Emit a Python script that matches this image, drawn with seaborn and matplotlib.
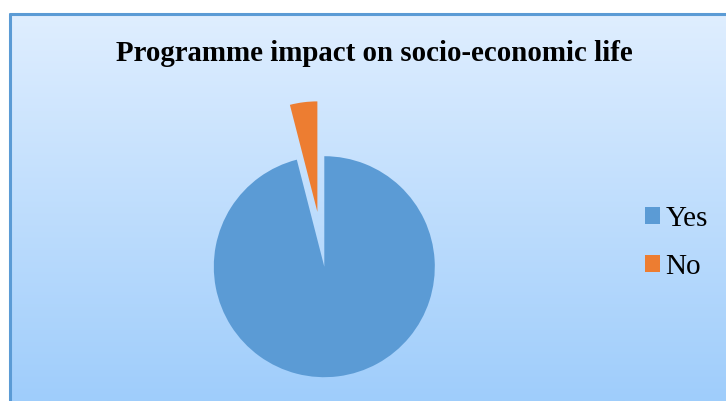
import numpy as np
import matplotlib
matplotlib.use("Agg")
import matplotlib.pyplot as plt
from matplotlib.patches import Patch
from matplotlib.colors import LinearSegmentedColormap
import seaborn as sns

categories = ["Yes", "No"]
values = [96, 4]
colors = ["#5b9bd5", "#ed7d31"]
title = "Programme impact on socio-economic life"

sns.set_style("white")
plt.rcParams["font.family"] = ["Liberation Serif", "DejaVu Serif"]
plt.rcParams["text.color"] = "black"

W, H = 726, 401
fig = plt.figure(figsize=(W / 100, H / 100), dpi=100, facecolor="white")

# background panel with vertical gradient
bx0, by_top = 10, 14
bg = fig.add_axes([bx0 / W, 0, (W - bx0) / W, (H - by_top) / H])
cmap = LinearSegmentedColormap.from_list("bg", ["#dfeeff", "#9fcdfb"])
grad = np.linspace(0, 1, 256).reshape(-1, 1)
bg.imshow(grad, aspect="auto", cmap=cmap, extent=[0, 1, 0, 1], origin="upper")
bg.set_xlim(0, 1)
bg.set_ylim(0, 1)
bg.axis("off")
fig.add_artist(plt.Line2D([bx0 / W, bx0 / W], [0, (H - by_top) / H], color="#5b9bd5", lw=2.2))
fig.add_artist(plt.Line2D([bx0 / W, 1], [(H - by_top) / H, (H - by_top) / H], color="#5b9bd5", lw=2.2))

# pie
cx, cy, r = 324.3, 401 - 266.7, 110.5
ax = fig.add_axes([(cx - r) / W, (cy - r) / H, 2 * r / W, 2 * r / H])
ax.pie(values, colors=colors, startangle=90, counterclock=False,
       explode=[0, 0.5], wedgeprops=dict(linewidth=0))
ax.set_xlim(-1, 1)
ax.set_ylim(-1, 1)
ax.set_aspect("equal")
ax.axis("off")
for p in ax.patches:
    p.set_clip_on(False)

fig.text(374.5 / W, (H - 61) / H, title, ha="center", va="baseline",
         fontsize=20.8, fontweight="bold", color="black")

handles = [Patch(facecolor=c, edgecolor="none") for c in colors]
leg = fig.legend(handles, categories, loc="center left",
                 bbox_to_anchor=(633 / W, (H - 243) / H), frameon=False,
                 fontsize=21, handlelength=0.52, handleheight=0.52,
                 handletextpad=0.2, labelspacing=0.75, borderaxespad=0)
for t in leg.get_texts():
    t.set_color("black")

fig.savefig("out.png", dpi=100, facecolor="white")
